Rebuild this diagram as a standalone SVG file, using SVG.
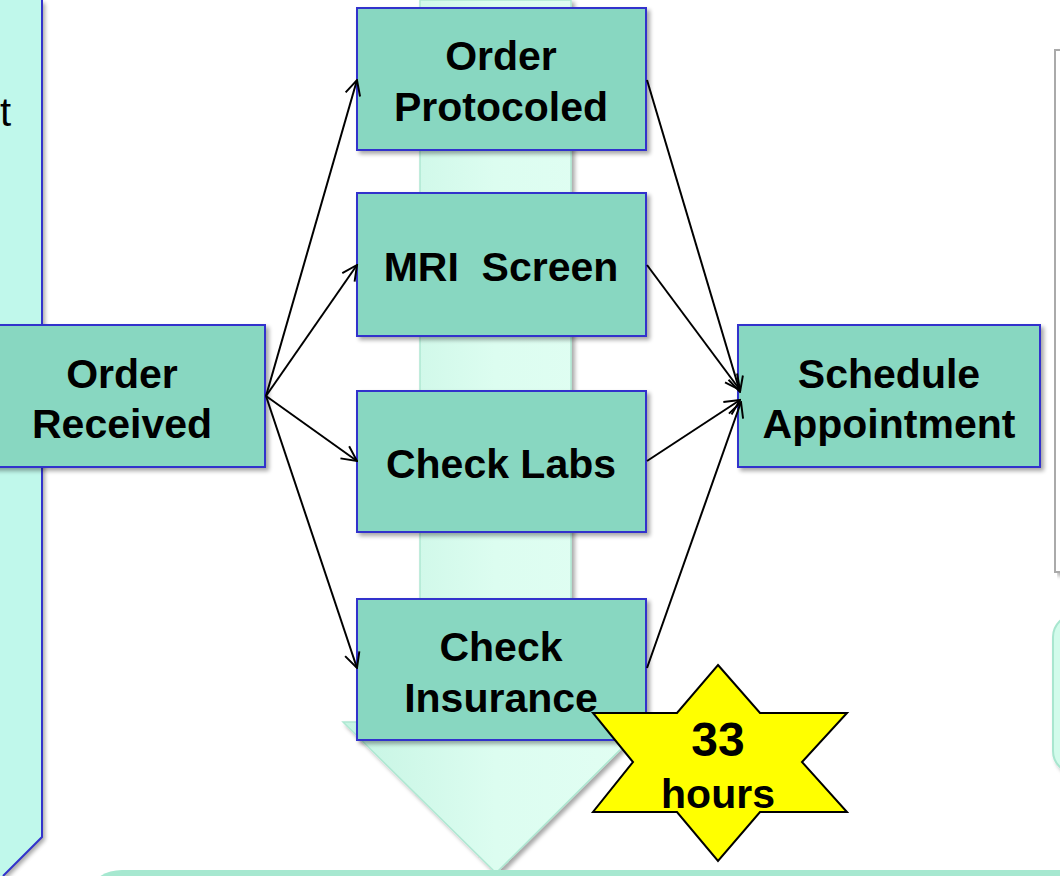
<svg xmlns="http://www.w3.org/2000/svg" width="1060" height="876" viewBox="0 0 1060 876">
<defs>
<style>
.node rect{fill:#88d7c1;stroke:#3333cc;stroke-width:2;filter:url(#sh)}
.lbl{font-family:"Liberation Sans",Arial,sans-serif;font-weight:bold;font-size:41px;fill:#000;text-anchor:middle}
.conn line{stroke:#000;stroke-width:2;marker-end:url(#ah)}
</style>
<filter id="sh" x="-10%" y="-10%" width="130%" height="130%">
<feGaussianBlur in="SourceAlpha" stdDeviation="2"/>
<feOffset dx="3" dy="3" result="b"/>
<feComponentTransfer><feFuncA type="linear" slope="0.35"/></feComponentTransfer>
<feMerge><feMergeNode/><feMergeNode in="SourceGraphic"/></feMerge>
</filter>
<linearGradient id="col" x1="0" y1="0" x2="1" y2="0">
<stop offset="0" stop-color="#c6f4e3"/>
<stop offset="0.5" stop-color="#dcfdf0"/>
<stop offset="1" stop-color="#e2fef3"/>
</linearGradient>
<marker id="ah" viewBox="0 0 12 12" refX="11" refY="6" markerWidth="18" markerHeight="18" markerUnits="userSpaceOnUse" orient="auto">
<path d="M1,1 L11,6 L1,11" fill="none" stroke="#000" stroke-width="1.3"/>
</marker>
</defs>
<rect width="1060" height="876" fill="#fff"/>
<g id="background">
<path d="M0,0 H42 V837 L3,876 H0 Z" fill="#c0f8eb" filter="url(#sh)"/>
<path d="M42,0 V837 L3,876" fill="none" stroke="#3333cc" stroke-width="2"/>
<text x="0" y="126" font-family="Liberation Sans,Arial,sans-serif" font-size="40">t</text>
<g filter="url(#sh)">
<path d="M420,0 H571 V722 H648 L496,873 L343,722 H420 Z" fill="url(#col)" stroke="#aee8d2" stroke-width="1.5"/>
</g>
<path d="M1055,50 H1062 V572 H1055 Z" fill="#fff" stroke="#aaa" stroke-width="2" filter="url(#sh)"/>
<rect x="1053" y="615" width="60" height="158" rx="22" fill="#d2fbeb" stroke="#a8e6cf" stroke-width="2" filter="url(#sh)"/>
<rect x="92" y="870" width="1000" height="40" rx="30" fill="#a6e8d0"/>
</g>
<g id="n-received" class="node"><rect x="-20" y="325" width="285" height="142"/>
<text class="lbl" x="122" y="388">Order</text><text class="lbl" x="122" y="438">Received</text></g>
<g id="n-protocoled" class="node"><rect x="357" y="8" width="289" height="142"/>
<text class="lbl" x="501" y="70">Order</text><text class="lbl" x="501" y="121">Protocoled</text></g>
<g id="n-mri" class="node"><rect x="357" y="193" width="289" height="143"/>
<text class="lbl" x="501" y="281" xml:space="preserve">MRI  Screen</text></g>
<g id="n-labs" class="node"><rect x="357" y="391" width="289" height="141"/>
<text class="lbl" x="501" y="478">Check Labs</text></g>
<g id="n-insurance" class="node"><rect x="357" y="599" width="289" height="141"/>
<text class="lbl" x="501" y="661">Check</text><text class="lbl" x="501" y="712">Insurance</text></g>
<g id="n-schedule" class="node"><rect x="738" y="325" width="302" height="142"/>
<text class="lbl" x="889" y="388">Schedule</text><text class="lbl" x="889" y="438">Appointment</text></g>
<g id="connectors" class="conn">
<line x1="266" y1="396" x2="357" y2="80"/>
<line x1="266" y1="396" x2="357" y2="265"/>
<line x1="266" y1="396" x2="357" y2="461"/>
<line x1="266" y1="396" x2="357" y2="668"/>
<line x1="647" y1="80" x2="740" y2="392"/>
<line x1="647" y1="265" x2="740" y2="390"/>
<line x1="647" y1="461" x2="740" y2="400"/>
<line x1="647" y1="668" x2="741" y2="402"/>
</g>
<g id="star">
<polygon points="718,665 760,713 847,713 802,762 847,812 760,812 718,861 677,812 593,812 633,762 593,713 677,713" fill="#ffff00" stroke="#000" stroke-width="2"/>
<text class="lbl" x="718" y="756" style="font-size:48px">33</text>
<text class="lbl" x="718" y="808">hours</text>
</g>
</svg>
